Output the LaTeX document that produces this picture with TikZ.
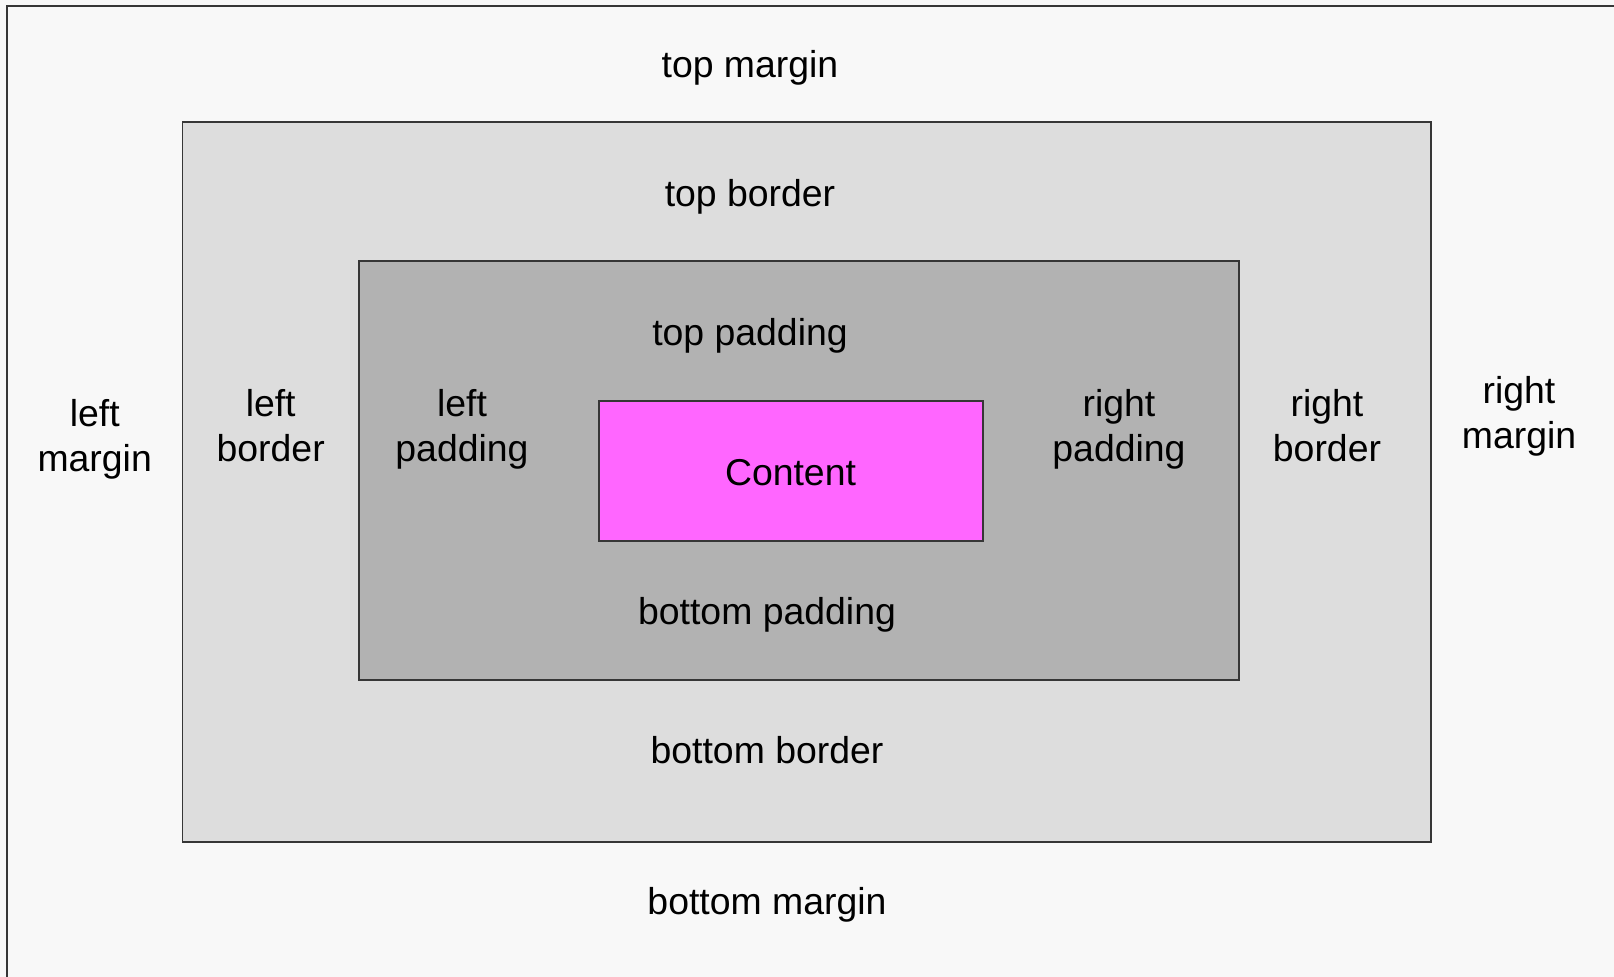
\documentclass[tikz,border=0pt]{standalone}
\usepackage{fontspec}
\setmainfont{Liberation Sans}
\definecolor{bgcol}{HTML}{F8F8F8}
\definecolor{bordercol}{HTML}{DDDDDD}
\definecolor{padcol}{HTML}{B2B2B2}
\definecolor{contcol}{HTML}{FF66FF}
\definecolor{linecol}{HTML}{363636}
\tikzset{
  lbl/.style={align=center, inner sep=0pt, font=\fontsize{18.7}{22.5}\selectfont, text=black},
  boxline/.style={draw=linecol, line width=0.85pt}
}
\begin{document}
\begin{tikzpicture}[x=0.5pt, y=-0.5pt]
\useasboundingbox (0,0) rectangle (1614,977);
\fill[bgcol] (0,0) rectangle (1614,977);
\draw[linecol, line width=1.1pt] (7,980) -- (7,6) -- (1620,6);
\draw[boxline, fill=bordercol] (182.5,121.7) rectangle (1430.7,842.3);
\draw[boxline, fill=padcol] (359,261.3) rectangle (1239,679.7);
\draw[boxline, fill=contcol] (598.7,401) rectangle (983,540.7);
\node[lbl] (tm) at (750,68) {top margin};
\node[lbl] (tb) at (750,196.5) {top border};
\node[lbl] (tp) at (750,335.5) {top padding};
\node[lbl] (ct) at (790.5,472.5) {Content};
\node[lbl] (bp) at (767,614.4) {bottom padding};
\node[lbl] (bb) at (767,750.4) {bottom border};
\node[lbl] (bm) at (767,904.7) {bottom margin};
\node[lbl] (lm) at (94.7,439.5) {left\\margin};
\node[lbl] (lb) at (270.7,426) {left\\border};
\node[lbl] (lp) at (462,429) {left\\padding};
\node[lbl] (rp) at (1119,429) {right\\padding};
\node[lbl] (rb) at (1327,426) {right\\border};
\node[lbl] (rm) at (1519,416) {right\\margin};
\end{tikzpicture}
\end{document}
